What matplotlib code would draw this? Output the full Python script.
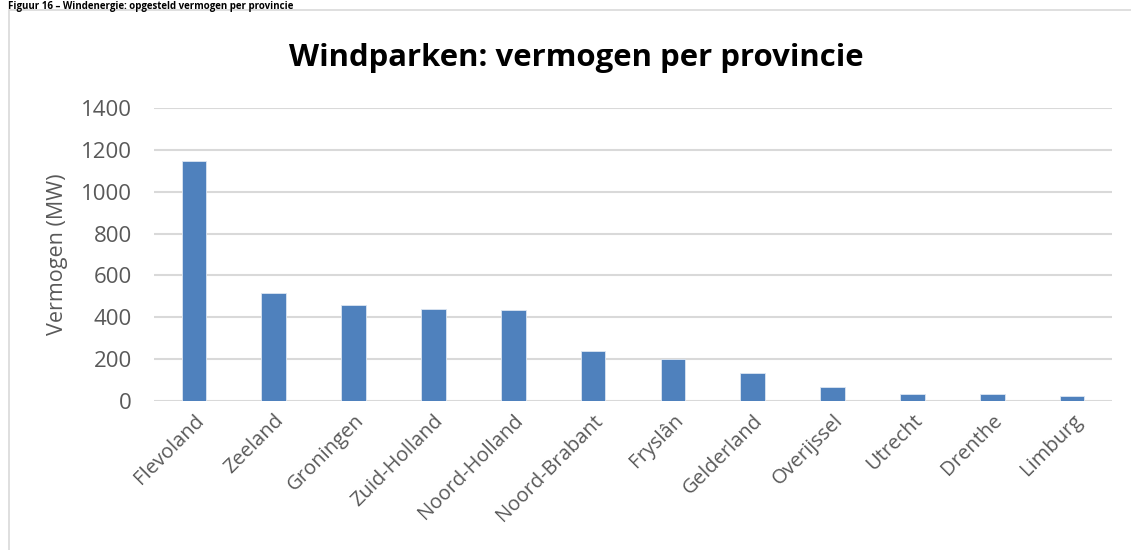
import matplotlib
matplotlib.use("Agg")
import matplotlib.pyplot as plt
from matplotlib.patches import Rectangle

provinces = ["Flevoland", "Zeeland", "Groningen", "Zuid-Holland", "Noord-Holland",
             "Noord-Brabant", "Fryslân", "Gelderland", "Overijssel", "Utrecht",
             "Drenthe", "Limburg"]
capacity_mw = [1147, 516, 459, 439, 435, 239, 199, 132, 67, 35, 32, 22]
y_ticks = [0, 200, 400, 600, 800, 1000, 1200, 1400]

plt.rcParams['font.family'] = ['Open Sans', 'DejaVu Sans']

W, H = 1131, 550
fig = plt.figure(figsize=(W / 100, H / 100), dpi=100)

# chart frame (continues past the bottom and right edges)
fig.patches.append(Rectangle((9 / W, -0.05), (W - 9) / W + 0.05, (H - 10) / H + 0.05,
                             transform=fig.transFigure, fill=False,
                             edgecolor='#d9d9d9', linewidth=1.2))

# caption above the chart frame
fig.text(8 / W, 1 - 1.5 / H, "Figuur 16 – Windenergie: opgesteld vermogen per provincie",
         ha='left', va='top', fontsize=7, fontweight='bold', color='#000000')

ax = fig.add_axes([154 / W, 1 - 401 / H, (1112 - 154) / W, (401 - 108) / H])
x = list(range(len(provinces)))
ax.bar(x, capacity_mw, width=0.31, color='#4f81bd', edgecolor='#dce6f2',
       linewidth=0.6, zorder=3)
ax.set_xlim(-0.5, len(provinces) - 0.5)
ax.set_ylim(0, 1400)
ax.set_yticks(y_ticks)
ax.set_yticklabels([str(v) for v in y_ticks], fontsize=16, color='#595959')
ax.set_xticks(x)
ax.set_xticklabels(provinces, rotation=45, ha='right', rotation_mode='anchor',
                   fontsize=14.5, color='#595959')
ax.tick_params(axis='y', length=0, pad=16)
ax.tick_params(axis='x', length=0, pad=7)
ax.grid(axis='y', color='#d9d9d9', linewidth=1.5, zorder=0)
for s in ax.spines.values():
    s.set_visible(False)
ax.set_ylabel("Vermogen (MW)", fontsize=15.5, color='#595959', labelpad=9)

fig.text(576 / W, 1 - 58 / H, "Windparken: vermogen per provincie",
         ha='center', va='center', fontsize=22.4, fontweight='bold', color='#000000')

fig.savefig("out.png", dpi=100)
